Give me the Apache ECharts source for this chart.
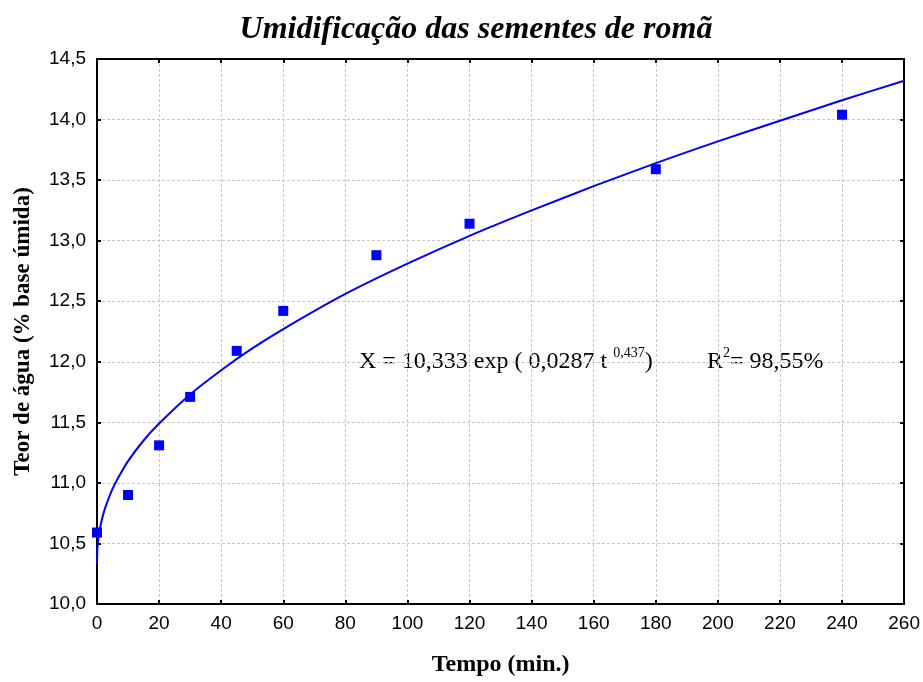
<!DOCTYPE html>
<html>
<head>
<meta charset="utf-8">
<script src="https://cdn.jsdelivr.net/npm/echarts@6/dist/echarts.min.js"></script>
<style>
  html, body { margin: 0; padding: 0; background: #fff; }
  #umid { width: 923px; height: 682px; }
</style>
</head>
<body>
<div id="umid"></div>
<script>
// pontos medidos
var tempo = [0, 10, 20, 30, 45, 60, 90, 120, 180, 240];
var teor = [10.59, 10.90, 11.31, 11.71, 12.09, 12.42, 12.88, 13.14, 13.59, 14.04];

// curva ajustada
var curvaT = [0, 0.05, 0.2, 0.5, 1, 2, 3, 5, 7, 10, 15, 20, 30, 40, 50, 60, 80, 100, 120, 140, 160, 180, 200, 220, 240, 260];
var curvaX = [10.33, 10.41, 10.48, 10.55, 10.63, 10.74, 10.82, 10.95, 11.05, 11.18, 11.35, 11.49, 11.73, 11.93, 12.11, 12.27, 12.56, 12.81, 13.04, 13.25, 13.45, 13.64, 13.82, 13.99, 14.16, 14.32];

var xTicks = [0, 260, 20];
var yTicks = [10, 14.5, 0.5];

var serif = 'Liberation Serif';
var sans = 'Liberation Sans';

var pontos = tempo.map(function (t, i) { return [t, teor[i]]; });
var curva = curvaT.map(function (t, i) { return [t, curvaX[i]]; });

var eixoX = {
    type: 'value',
    min: xTicks[0],
    max: xTicks[1],
    interval: xTicks[2],
    axisLine: { show: true, onZero: false, lineStyle: { color: '#000', width: 2 } },
    axisTick: { show: true, inside: true, length: 4, lineStyle: { color: '#000', width: 2 } }
};
var eixoY = {
    type: 'value',
    min: yTicks[0],
    max: yTicks[1],
    interval: yTicks[2],
    axisLine: { show: true, onZero: false, lineStyle: { color: '#000', width: 2 } },
    axisTick: { show: true, inside: true, length: 4, lineStyle: { color: '#000', width: 2 } }
};

var umid = {
    animation: false,
    title: {
        text: 'Umidificação das sementes de romã',
        left: 471,
        textAlign: 'center',
        top: 9,
        textStyle: { fontFamily: serif, fontSize: 32, fontWeight: 'bold', fontStyle: 'italic', color: '#000' }
    },
    grid: { left: 97, right: 18, top: 59, bottom: 75 },
    xAxis: [
        Object.assign({}, eixoX, {
            position: 'bottom',
            name: 'Tempo (min.)',
            nameLocation: 'middle',
            nameGap: 49,
            nameTextStyle: { fontFamily: serif, fontSize: 24, fontWeight: 'bold', color: '#000' },
            axisLabel: { color: '#000', fontFamily: sans, fontSize: 19, margin: 10 },
            splitLine: { show: true, lineStyle: { color: '#c8c8c8', type: [3, 2], width: 1 } }
        }),
        Object.assign({}, eixoX, {
            position: 'top',
            axisLabel: { show: false },
            splitLine: { show: false }
        })
    ],
    yAxis: [
        Object.assign({}, eixoY, {
            position: 'left',
            name: 'Teor de água (% base úmida)',
            nameLocation: 'middle',
            nameGap: 62,
            nameTextStyle: { fontFamily: serif, fontSize: 23, fontWeight: 'bold', color: '#000' },
            axisLabel: {
                color: '#000', fontFamily: sans, fontSize: 19, margin: 11,
                formatter: function (v) { return v.toFixed(1).replace('.', ','); }
            },
            splitLine: { show: true, lineStyle: { color: '#c8c8c8', type: [3, 2], width: 1 } }
        }),
        Object.assign({}, eixoY, {
            position: 'right',
            axisLabel: { show: false },
            splitLine: { show: false }
        })
    ],
    series: [
        {
            name: 'ajuste',
            type: 'line',
            data: curva,
            showSymbol: false,
            smooth: 0.2,
            lineStyle: { color: '#0000ff', width: 2 },
            z: 3
        },
        {
            name: 'teor',
            type: 'scatter',
            data: pontos,
            symbol: 'rect',
            symbolSize: 10,
            itemStyle: { color: '#0000ff', opacity: 1 },
            z: 4
        }
    ],
    graphic: [
        {
            type: 'text',
            left: 359,
            top: 346,
            style: {
                text: '{n|X = 10,333 exp ( 0,0287 t }{s|0,437}{n|)}',
                rich: {
                    n: { fontFamily: serif, fontSize: 24, fill: '#000', verticalAlign: 'bottom', lineHeight: 28 },
                    s: { fontFamily: serif, fontSize: 14, fill: '#000', verticalAlign: 'top', lineHeight: 28, padding: [0, 0, 12, 0] }
                }
            }
        },
        {
            type: 'text',
            left: 707,
            top: 346,
            style: {
                text: '{n|R}{s|2}{n|= 98,55%}',
                rich: {
                    n: { fontFamily: serif, fontSize: 24, fill: '#000', verticalAlign: 'bottom', lineHeight: 28 },
                    s: { fontFamily: serif, fontSize: 14, fill: '#000', verticalAlign: 'top', lineHeight: 28, padding: [0, 0, 12, 0] }
                }
            }
        }
    ]
};

var chartUmid = echarts.init(document.getElementById('umid'));
chartUmid.setOption(umid);
</script>
</body>
</html>
